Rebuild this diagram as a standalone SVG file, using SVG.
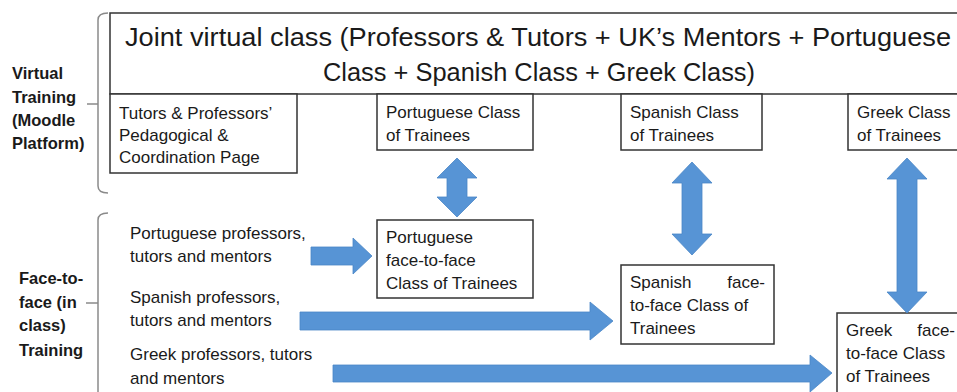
<svg xmlns="http://www.w3.org/2000/svg" width="957" height="392" viewBox="0 0 957 392">
  <style>
    .box { fill: #ffffff; stroke: #333333; stroke-width: 1.5; }
    .txt { font-family: "Liberation Sans", Arial, sans-serif; font-size: 17px; fill: #1a1a1a; }
    .title { font-family: "Liberation Sans", Arial, sans-serif; font-size: 26px; fill: #1a1a1a; text-anchor: middle; }
    .lbl { font-family: "Liberation Sans", Arial, sans-serif; font-size: 16.5px; font-weight: bold; fill: #1a1a1a; }
    .brace { fill: none; stroke: #8a8a8a; stroke-width: 1.5; }
    .arrow { fill: #5794d5; stroke: #4a86c6; stroke-width: 0.8; }
  </style>
  <rect width="957" height="392" fill="#ffffff"/>

  <!-- side labels and braces -->
  <g id="virtual-training">
    <text class="lbl" x="12" y="79">Virtual</text>
    <text class="lbl" x="12" y="103">Training</text>
    <text class="lbl" x="12" y="126">(Moodle</text>
    <text class="lbl" x="12" y="149">Platform)</text>
    <path class="brace" d="M108,13 Q98,13 98,20 L98,186 Q98,193 108,193 M87,104 L98,104"/>
  </g>
  <g id="face-to-face-training">
    <text class="lbl" x="19" y="284">Face-to-</text>
    <text class="lbl" x="19" y="308">face (in</text>
    <text class="lbl" x="19" y="331">class)</text>
    <text class="lbl" x="19" y="356">Training</text>
    <path class="brace" d="M108,213 Q98,213 98,220 L98,392 M86,303 L98,303"/>
  </g>

  <!-- virtual platform boxes -->
  <g id="joint-virtual-class">
    <rect class="box" x="110" y="13" width="850" height="81"/>
    <text class="title" x="538" y="46" textLength="826" lengthAdjust="spacingAndGlyphs">Joint virtual class (Professors &amp; Tutors + UK’s Mentors + Portuguese</text>
    <text class="title" x="539" y="81" textLength="432" lengthAdjust="spacingAndGlyphs">Class + Spanish Class + Greek Class)</text>
  </g>
  <g id="coordination-page">
    <rect class="box" x="110" y="94" width="187" height="79"/>
    <text class="txt" x="119" y="119">Tutors &amp; Professors’</text>
    <text class="txt" x="119" y="141">Pedagogical &amp;</text>
    <text class="txt" x="119" y="163">Coordination Page</text>
  </g>
  <g id="portuguese-class">
    <rect class="box" x="377" y="94" width="156" height="56"/>
    <text class="txt" x="386" y="118">Portuguese Class</text>
    <text class="txt" x="386" y="141">of Trainees</text>
  </g>
  <g id="spanish-class">
    <rect class="box" x="621" y="94" width="141" height="56"/>
    <text class="txt" x="630" y="118">Spanish Class</text>
    <text class="txt" x="630" y="141">of Trainees</text>
  </g>
  <g id="greek-class">
    <rect class="box" x="848" y="94" width="115" height="56"/>
    <text class="txt" x="857" y="118">Greek Class</text>
    <text class="txt" x="857" y="141">of Trainees</text>
  </g>

  <!-- staff groups -->
  <g id="portuguese-staff">
    <text class="txt" x="130" y="239">Portuguese professors,</text>
    <text class="txt" x="130" y="262">tutors and mentors</text>
  </g>
  <g id="spanish-staff">
    <text class="txt" x="130" y="303">Spanish professors,</text>
    <text class="txt" x="130" y="326">tutors and mentors</text>
  </g>
  <g id="greek-staff">
    <text class="txt" x="130" y="360">Greek professors, tutors</text>
    <text class="txt" x="130" y="384">and mentors</text>
  </g>

  <!-- face-to-face classes -->
  <g id="portuguese-f2f">
    <rect class="box" x="377" y="220" width="156" height="78"/>
    <text class="txt" x="386" y="243">Portuguese</text>
    <text class="txt" x="386" y="266">face-to-face</text>
    <text class="txt" x="386" y="289">Class of Trainees</text>
  </g>
  <g id="spanish-f2f">
    <rect class="box" x="621" y="265" width="153" height="79"/>
    <text class="txt" x="630" y="288">Spanish</text>
    <text class="txt" x="765" y="288" text-anchor="end">face-</text>
    <text class="txt" x="630" y="311">to-face Class of</text>
    <text class="txt" x="630" y="334">Trainees</text>
  </g>
  <g id="greek-f2f">
    <rect class="box" x="837" y="313" width="126" height="85"/>
    <text class="txt" x="846" y="336">Greek</text>
    <text class="txt" x="955" y="336" text-anchor="end">face-</text>
    <text class="txt" x="846" y="359">to-face Class</text>
    <text class="txt" x="846" y="382">of Trainees</text>
  </g>

  <!-- block arrows -->
  <g id="connectors">
    <!-- virtual class <-> face-to-face class -->
    <path class="arrow" d="M457,158 L477,178 L467,178 L467,197 L477,197 L457,217 L437,197 L447,197 L447,178 L437,178 Z"/>
    <path class="arrow" d="M692,162 L712,183 L702,183 L702,234 L712,234 L692,255 L672,234 L682,234 L682,183 L672,183 Z"/>
    <path class="arrow" d="M907,158 L927,179 L917,179 L917,292 L927,292 L907,313 L887,292 L897,292 L897,179 L887,179 Z"/>
    <!-- staff -> face-to-face class -->
    <path class="arrow" d="M311,247 L353,247 L353,238 L372,256 L353,274 L353,265 L311,265 Z"/>
    <path class="arrow" d="M300,312 L590,312 L590,302 L613,321 L590,340 L590,330 L300,330 Z"/>
    <path class="arrow" d="M333,365 L810,365 L810,355 L832,373 L810,392 L810,382 L333,382 Z"/>
  </g>
</svg>
